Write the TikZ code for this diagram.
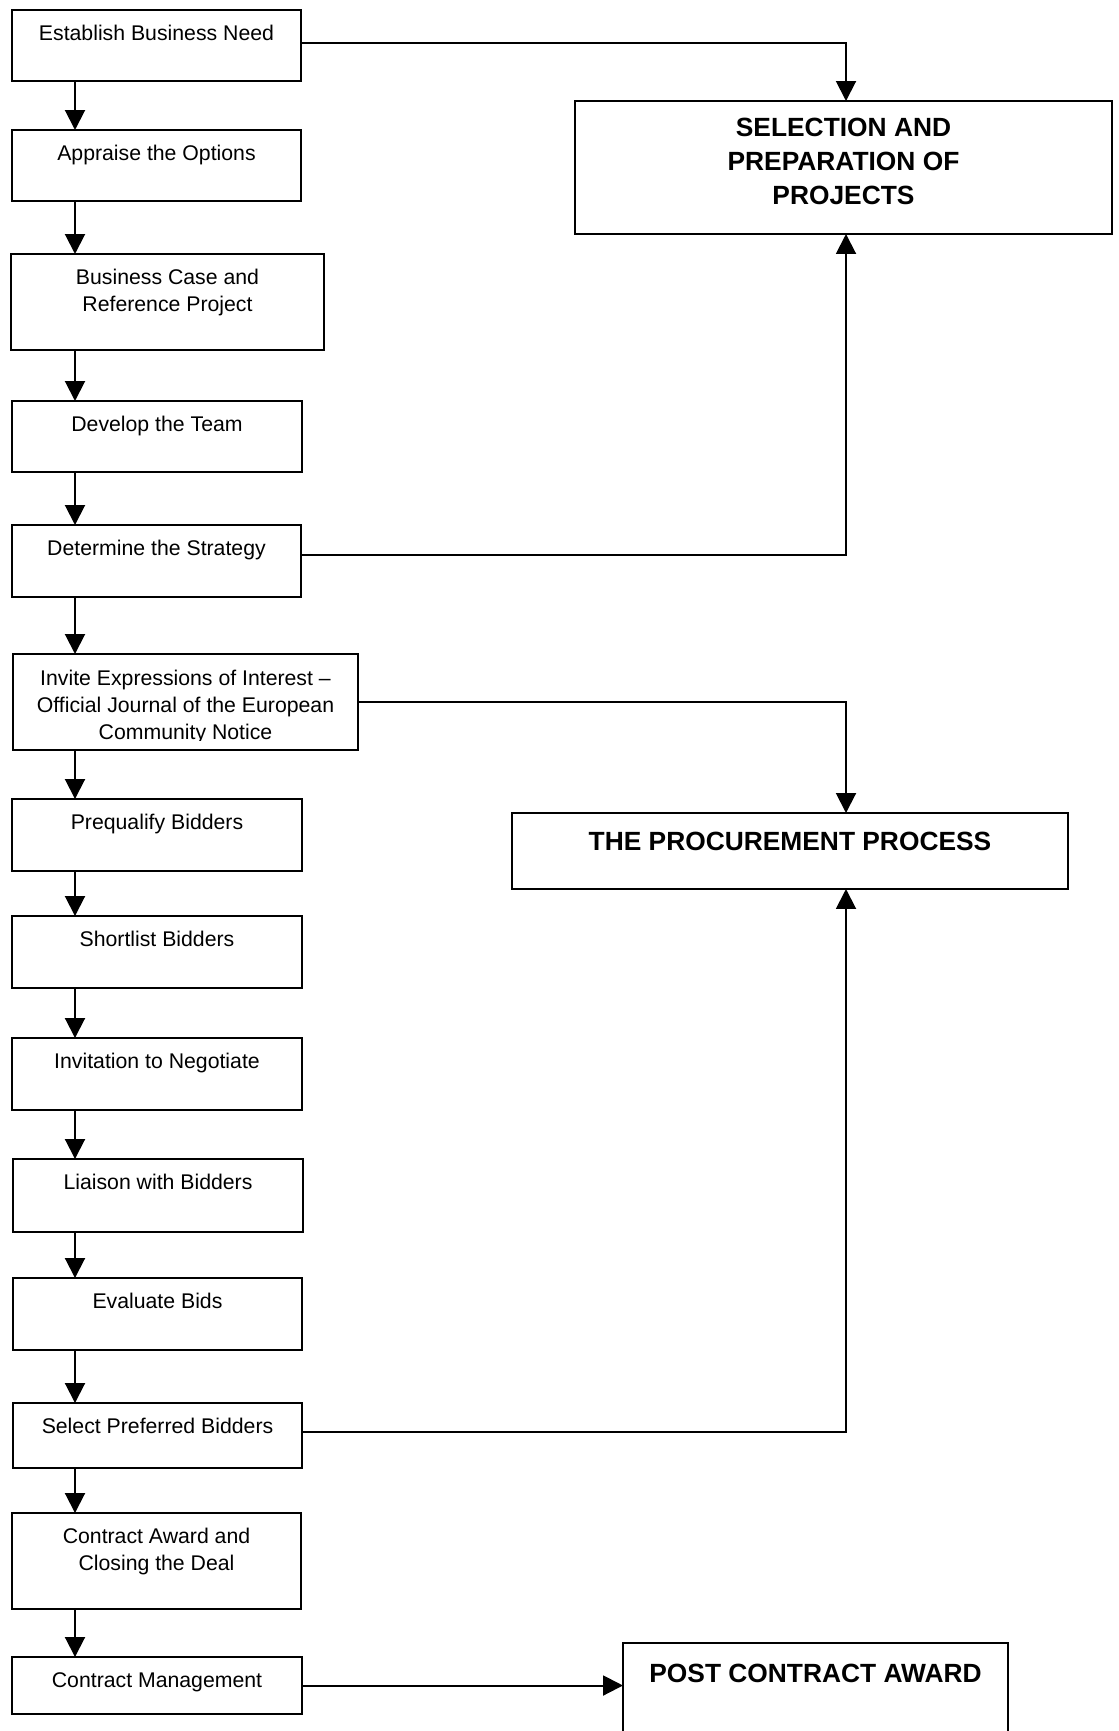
\documentclass[tikz,border=0pt]{standalone}
\usepackage{fontspec}
\setmainfont{Liberation Sans}
\usetikzlibrary{arrows.meta}

% one drawing unit = one pixel of the layout grid
\newcommand\pxu{0.4706pt}
% \stepbox{name}{left}{top}{right}{bottom}
\newcommand\stepbox[5]{%
  \node[box, minimum width={(#4-#2)*\pxu}, minimum height={(#5-#3)*\pxu}]
    (#1) at ({(#2+#4)/2},{(#3+#5)/2}) {};}

\begin{document}
\begin{tikzpicture}[x=0.4706pt, y=-0.4706pt,
  box/.style={draw, line width=1.1pt, rectangle, inner sep=0pt, outer sep=0pt},
  lbl/.style={anchor=base, inner sep=0pt, font=\fontsize{10}{12}\selectfont},
  head/.style={anchor=base, inner sep=0pt, font=\fontsize{12.4}{15}\selectfont\bfseries},
  flow/.style={line width=0.95pt, -{Triangle[width=9.4pt,length=9.4pt]}},
]
\useasboundingbox (0,0) rectangle (1119,1731);
\clip (0,0) rectangle (1119,1731);

% spine and side-connector columns
\coordinate (ax) at (75,0);
\coordinate (vx) at (846,0);

% left-hand sequence of steps
\stepbox{b1}{12}{10}{301}{81}
\stepbox{b2}{12}{130}{301}{201}
\stepbox{b3}{11}{254}{324}{350}
\stepbox{b4}{12}{401}{302}{472}
\stepbox{b5}{12}{525}{301}{597}
\stepbox{b6}{13}{654}{358}{750}
\stepbox{b7}{12}{799}{302}{871}
\stepbox{b8}{12}{916}{302}{988}
\stepbox{b9}{12}{1038}{302}{1110}
\stepbox{b10}{13}{1159}{303}{1232}
\stepbox{b11}{13}{1278}{302}{1350}
\stepbox{b12}{13}{1403}{302}{1468}
\stepbox{b13}{12}{1513}{301}{1609}
\stepbox{b14}{12}{1657}{302}{1714}

\node[lbl] at (156.5,40) {Establish Business Need};
\node[lbl] at (156.5,160) {Appraise the Options};
\node[lbl] at (167.5,284) {Business Case and};
\node[lbl] at (167.5,311) {Reference Project};
\node[lbl] at (157,431) {Develop the Team};
\node[lbl] at (156.5,555) {Determine the Strategy};
\node[lbl] at (185.5,685) {Invite Expressions of Interest \textendash};
\node[lbl] at (185.5,712) {Official Journal of the European};
\begin{scope}
  \clip (13,654) rectangle (358,740);
  \node[lbl] at (185.5,739) {Community Notice};
\end{scope}
\node[lbl] at (157,829) {Prequalify Bidders};
\node[lbl] at (157,946) {Shortlist Bidders};
\node[lbl] at (157,1068) {Invitation to Negotiate};
\node[lbl] at (158,1189) {Liaison with Bidders};
\node[lbl] at (157.5,1308) {Evaluate Bids};
\node[lbl] at (157.5,1433) {Select Preferred Bidders};
\node[lbl] at (156.5,1543) {Contract Award and};
\node[lbl] at (156.5,1570) {Closing the Deal};
\node[lbl] at (157,1687) {Contract Management};

% stage boxes on the right
\stepbox{sel}{575}{101}{1112}{234}
\stepbox{proc}{512}{813}{1068}{889}
\stepbox{post}{623}{1643}{1008}{1760}

\node[head] at (843.5,136) {SELECTION AND};
\node[head] at (843.5,170) {PREPARATION OF};
\node[head] at (843.5,204) {PROJECTS};
\node[head] at (790,850) {THE PROCUREMENT PROCESS};
\node[head] at (815.5,1682) {POST CONTRACT AWARD};

% arrows down the sequence
\foreach \a/\b in {b1/b2,b2/b3,b3/b4,b4/b5,b5/b6,b6/b7,b7/b8,b8/b9,
                   b9/b10,b10/b11,b11/b12,b12/b13,b13/b14}
  \draw[flow] (\a.south -| ax) -- (\b.north -| ax);

% links from the steps to the stage boxes
\draw[flow] ([yshift=1.4pt]b1.east) -| (sel.north -| vx);
\draw[flow] ([yshift=2.8pt]b5.east) -| (sel.south -| vx);
\draw[flow] (b6.east) -| (proc.north -| vx);
\draw[flow] ([yshift=1.6pt]b12.east) -| (proc.south -| vx);
\draw[flow] (b14.east) -- (b14.east -| post.west);
\end{tikzpicture}
\end{document}
